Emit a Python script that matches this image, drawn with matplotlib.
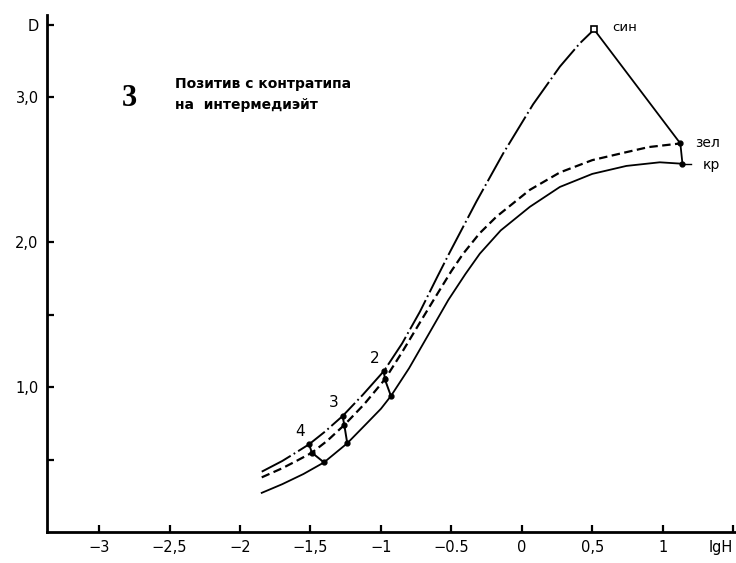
import matplotlib
matplotlib.use("Agg")
import matplotlib.pyplot as plt

# Characteristic curves: density D vs lgH for the three colour layers
lgH_kr = [-1.846, -1.7, -1.55, -1.404, -1.239, -1.1, -1.0, -0.929, -0.8,
          -0.652, -0.522, -0.4, -0.298, -0.15, 0.057, 0.27, 0.5, 0.742,
          0.979, 1.14]
D_kr = [0.27, 0.33, 0.40, 0.48, 0.612, 0.75, 0.85, 0.938, 1.13,
        1.38, 1.60, 1.78, 1.92, 2.08, 2.243, 2.38, 2.47, 2.525,
        2.55, 2.54]

lgH_zel = [-1.846, -1.7, -1.6, -1.49, -1.38, -1.26, -1.12, -0.972, -0.85,
           -0.72, -0.617, -0.5, -0.416, -0.3, -0.18, 0.057, 0.27, 0.5,
           0.742, 0.9, 1.125]
D_zel = [0.377, 0.44, 0.49, 0.547, 0.63, 0.738, 0.88, 1.053, 1.24,
         1.45, 1.615, 1.80, 1.92, 2.06, 2.175, 2.36, 2.48, 2.565,
         2.62, 2.655, 2.68]

lgH_sin = [-1.846, -1.7, -1.6, -1.51, -1.4, -1.272, -1.13, -0.979, -0.85,
           -0.723, -0.6, -0.511, -0.322, -0.133, 0.08, 0.27, 0.411, 0.513]
D_sin = [0.416, 0.49, 0.55, 0.605, 0.69, 0.80, 0.945, 1.11, 1.30,
         1.52, 1.76, 1.93, 2.28, 2.61, 2.95, 3.21, 3.37, 3.466]

# Marked wedge steps (син, зел, кр) and their numbers
step_labels = ["4", "3", "2"]
step_sin = [(-1.51, 0.605), (-1.272, 0.8), (-0.979, 1.11)]
step_zel = [(-1.49, 0.547), (-1.26, 0.738), (-0.972, 1.053)]
step_kr = [(-1.404, 0.48), (-1.239, 0.612), (-0.929, 0.938)]

# Maximum densities
dmax_sin = (0.513, 3.466)
dmax_zel = (1.125, 2.68)
dmax_kr = (1.14, 2.54)

x_ticks = [-3, -2.5, -2, -1.5, -1, -0.5, 0, 0.5, 1, 1.5]
x_ticklabels = ["\u22123", "\u22122,5", "\u22122", "\u22121,5", "\u22121",
                "\u22120.5", "0", "0,5", "1", ""]
y_ticks = [0.5, 1.0, 1.5, 2.0, 3.0, 3.5]
y_ticklabels = ["", "1,0", "", "2,0", "3,0", "D"]

W, H = 736, 563
fig = plt.figure(figsize=(W / 100, H / 100), dpi=100)
ax = fig.add_axes([47 / W, (H - 532) / H, (W - 47) / W, (532 - 15) / H])
ax.set_xlim(-3.37, 1.52)
ax.set_ylim(0, 3.566)

for s in ("top", "right"):
    ax.spines[s].set_visible(False)
for s in ("left", "bottom"):
    ax.spines[s].set_linewidth(2.0)

ax.set_xticks(x_ticks)
ax.set_xticklabels(x_ticklabels)
ax.set_yticks(y_ticks)
ax.set_yticklabels(y_ticklabels)
ax.tick_params(direction="in", length=5, width=1.6, labelsize=10.5, pad=6)
ax.text(1.5, -0.105, "lgH", ha="right", va="center", fontsize=10.5)

# Curves
ax.plot(lgH_kr, D_kr, color="black", lw=1.3, solid_joinstyle="round")
ax.plot(lgH_zel, D_zel, color="black", lw=1.6, dashes=(3.8, 2.0))
ax.plot(lgH_sin, D_sin, color="black", lw=1.4, dashes=(17, 1.8, 0.9, 1.8))

# Connectors between the three layers at marked steps
for (s, z, k) in zip(step_sin, step_zel, step_kr):
    ax.plot([s[0], z[0], k[0]], [s[1], z[1], k[1]], color="black", lw=1.4)
    ax.plot([s[0], z[0], k[0]], [s[1], z[1], k[1]], "o", color="black", ms=3.5)
for lab, s in zip(step_labels, step_sin):
    ax.text(s[0] - 0.065, s[1] + 0.09, lab, ha="center", va="center", fontsize=11)

# Maximum-density connector
ax.plot([dmax_sin[0], dmax_zel[0], dmax_kr[0]],
        [dmax_sin[1], dmax_zel[1], dmax_kr[1]], color="black", lw=1.3)
ax.plot([dmax_zel[0], dmax_kr[0]], [dmax_zel[1], dmax_kr[1]], "o", color="black", ms=3.5)
ax.plot([dmax_sin[0]], [dmax_sin[1]], "s", mfc="white", mec="black", ms=4, mew=1.2)
ax.plot([dmax_kr[0], dmax_kr[0] + 0.06], [dmax_kr[1], dmax_kr[1]], color="black", lw=1.0)

ax.text(0.64, 3.48, "син", ha="left", va="center", fontsize=9.5)
ax.text(1.227, 2.683, "зел", ha="left", va="center", fontsize=10)
ax.text(1.284, 2.531, "кр", ha="left", va="center", fontsize=10)

# Title block
ax.text(-2.787, 2.993, "3", ha="center", va="center", fontsize=22,
        family="Liberation Serif", weight="bold")
ax.text(-2.461, 3.06, "Позитив с контратипа", ha="left", va="baseline",
        fontsize=10, weight="bold")
ax.text(-2.461, 2.915, "на  интермедиэйт", ha="left", va="baseline",
        fontsize=10, weight="bold")

fig.savefig("out.png", dpi=100)
